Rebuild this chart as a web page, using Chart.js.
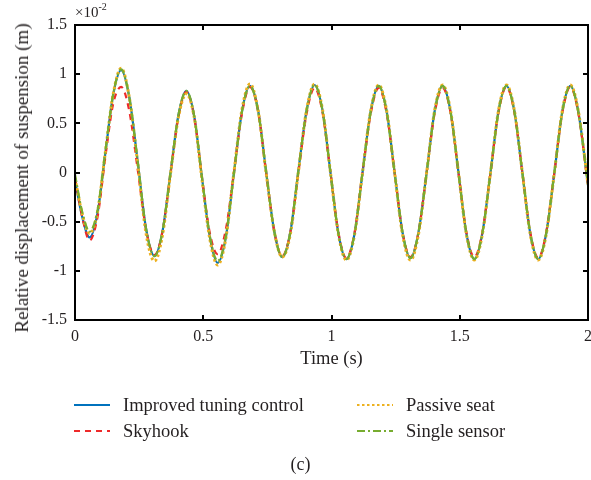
<!DOCTYPE html>
<html>
<head>
<meta charset="utf-8">
<script src="https://cdn.jsdelivr.net/npm/chart.js@4"></script>
<style>
    html, body { margin: 0; padding: 0; background: #fff; }
    body { width: 591px; height: 480px; position: relative; overflow: hidden; font-family: "Liberation Serif", serif; color: #231f20; }
    #wrap { position: absolute; left: 0; top: 0; width: 591px; height: 480px; }
    .exp { position: absolute; left: 75px; top: 2px; font-size: 15px; }
    .exp sup { font-size: 10px; position: relative; top: -1px; }
    .ytitle { position: absolute; left: 22px; top: 178px; font-size: 19px; white-space: nowrap; transform: translate(-50%, -50%) rotate(-90deg); }
    .leg { position: absolute; font-size: 18.5px; line-height: 20px; white-space: nowrap; }
    .leg svg { position: absolute; top: 0; }
    .cap { position: absolute; left: 0; width: 591px; top: 454px; text-align: center; font-size: 18px; margin-left: 5px; }
</style>
</head>
<body>
<div id="wrap"><canvas id="c" width="591" height="480"></canvas></div>
<div class="exp">&times;10<sup>-2</sup></div>
<div class="ytitle">Relative displacement of suspension (m)</div>
<div id="legend"></div>
<div class="cap">(c)</div>
<script>
// Time knots (s): extremes, zero crossings and points in between
const TIME = [
    0, 0.028, 0.057,
    0.088, 0.118, 0.149, 0.18,
    0.212, 0.245, 0.277, 0.31,
    0.341, 0.372, 0.403, 0.434,
    0.465, 0.495, 0.526, 0.556,
    0.588, 0.619, 0.651, 0.682,
    0.714, 0.745, 0.777, 0.808,
    0.840, 0.871, 0.903, 0.934,
    0.965, 0.996, 1.027, 1.058,
    1.090, 1.121, 1.153, 1.184,
    1.215, 1.246, 1.277, 1.308,
    1.339, 1.371, 1.402, 1.433,
    1.464, 1.495, 1.526, 1.557,
    1.588, 1.620, 1.651, 1.682,
    1.713, 1.744, 1.775, 1.806,
    1.837, 1.869, 1.900, 1.931,
    1.962, 2.0
];

// Relative displacement, units of 1e-2 m
const IMPROVED = [
    -0.08, -0.45, -0.66,
    -0.41, 0.19, 0.79, 1.04,
    0.76, 0.10, -0.57, -0.85,
    -0.60, -0.01, 0.58, 0.83,
    0.57, -0.05, -0.66, -0.92,
    -0.66, -0.02, 0.62, 0.88,
    0.63, 0.01, -0.60, -0.86,
    -0.60, 0.02, 0.63, 0.89,
    0.63, 0.00, -0.62, -0.88,
    -0.62, 0.00, 0.62, 0.88,
    0.62, 0.00, -0.61, -0.87,
    -0.61, 0.00, 0.62, 0.88,
    0.62, 0.00, -0.62, -0.88,
    -0.62, 0.00, 0.62, 0.88,
    0.62, 0.00, -0.62, -0.88,
    -0.62, 0.00, 0.62, 0.88,
    0.62, -0.13
];
const SKYHOOK = [
    -0.05, -0.45, -0.69,
    -0.45, 0.15, 0.70, 0.87,
    0.62, 0.02, -0.58, -0.84,
    -0.60, -0.02, 0.56, 0.82,
    0.56, -0.05, -0.62, -0.83,
    -0.58, -0.01, 0.60, 0.87,
    0.62, 0.00, -0.60, -0.85,
    -0.60, 0.00, 0.60, 0.86,
    0.61, 0.00, -0.61, -0.87,
    -0.61, 0.00, 0.60, 0.86,
    0.60, 0.00, -0.61, -0.86,
    -0.61, 0.00, 0.60, 0.86,
    0.61, 0.00, -0.61, -0.86,
    -0.61, 0.00, 0.61, 0.87,
    0.61, 0.00, -0.61, -0.87,
    -0.61, 0.00, 0.61, 0.87,
    0.61, -0.13
];
const PASSIVE = [
    -0.06, -0.42, -0.62,
    -0.40, 0.20, 0.80, 1.06,
    0.76, 0.08, -0.62, -0.90,
    -0.64, -0.02, 0.56, 0.80,
    0.56, -0.07, -0.68, -0.94,
    -0.67, -0.01, 0.64, 0.90,
    0.63, 0.00, -0.60, -0.86,
    -0.62, 0.01, 0.64, 0.90,
    0.64, 0.00, -0.63, -0.89,
    -0.63, 0.00, 0.63, 0.89,
    0.63, 0.00, -0.63, -0.89,
    -0.63, 0.00, 0.63, 0.89,
    0.63, 0.00, -0.63, -0.89,
    -0.63, 0.00, 0.63, 0.89,
    0.63, 0.00, -0.63, -0.89,
    -0.63, 0.00, 0.63, 0.89,
    0.63, -0.12
];
const SINGLE = [
    -0.02, -0.40, -0.60,
    -0.38, 0.21, 0.80, 1.05,
    0.76, 0.10, -0.57, -0.85,
    -0.60, -0.01, 0.58, 0.83,
    0.57, -0.05, -0.65, -0.90,
    -0.65, -0.02, 0.62, 0.88,
    0.62, 0.01, -0.60, -0.86,
    -0.60, 0.02, 0.63, 0.89,
    0.63, 0.00, -0.62, -0.88,
    -0.62, 0.00, 0.62, 0.88,
    0.62, 0.00, -0.61, -0.87,
    -0.61, 0.00, 0.62, 0.88,
    0.62, 0.00, -0.62, -0.88,
    -0.62, 0.00, 0.62, 0.88,
    0.62, 0.00, -0.62, -0.88,
    -0.62, 0.00, 0.62, 0.88,
    0.62, -0.12
];

const X_TICKS = [0, 0.5, 1, 1.5, 2];
const Y_TICKS = [-1.5, -1, -0.5, 0, 0.5, 1, 1.5];

const SERIES = [
    { label: 'Improved tuning control', values: IMPROVED, colour: '#0072bd', dash: [], width: 2.2, order: 3 },
    { label: 'Skyhook', values: SKYHOOK, colour: '#ee2a2a', dash: [6, 5], width: 2.2, order: 2 },
    { label: 'Passive seat', values: PASSIVE, colour: '#edb120', dash: [2.5, 2.5], width: 3, order: 1 },
    { label: 'Single sensor', values: SINGLE, colour: '#77ac30', dash: [8, 3, 2, 3], width: 2.2, order: 0 },
];

// MATLAB-style box with inward ticks on all four sides
const boxPlugin = {
    id: 'box',
    afterDatasetsDraw(chart) {
        const { ctx, chartArea: a, scales } = chart;
        ctx.save();
        ctx.strokeStyle = '#000';
        ctx.lineWidth = 2;
        ctx.strokeRect(a.left, a.top, a.right - a.left, a.bottom - a.top);
        ctx.beginPath();
        X_TICKS.forEach(v => {
            const x = Math.round(scales.x.getPixelForValue(v));
            ctx.moveTo(x, a.bottom); ctx.lineTo(x, a.bottom - 5);
            ctx.moveTo(x, a.top); ctx.lineTo(x, a.top + 5);
        });
        Y_TICKS.forEach(v => {
            const y = Math.round(scales.y.getPixelForValue(v));
            ctx.moveTo(a.left, y); ctx.lineTo(a.left + 5, y);
            ctx.moveTo(a.right, y); ctx.lineTo(a.right - 5, y);
        });
        ctx.stroke();
        ctx.restore();
    }
};

const tickFont = { family: '"Liberation Serif", serif', size: 16 };
const titleFont = { family: '"Liberation Serif", serif', size: 18.5 };

new Chart(document.getElementById('c'), {
    type: 'line',
    data: {
        datasets: SERIES.map(s => ({
            label: s.label,
            data: TIME.map((t, i) => ({ x: t, y: s.values[i] })),
            borderColor: s.colour,
            borderDash: s.dash,
            borderWidth: s.width,
            pointRadius: 0,
            cubicInterpolationMode: 'monotone',
            fill: false,
            order: s.order,
        })),
    },
    options: {
        responsive: false,
        animation: false,
        layout: { padding: { top: 25, right: 3, bottom: 110, left: 0 } },
        plugins: { legend: { display: false }, tooltip: { enabled: false } },
        scales: {
            x: {
                type: 'linear', min: 0, max: 2,
                afterFit: s => { s.height = 50; s.paddingRight = 0; s.paddingLeft = 0; },
                afterBuildTicks: s => { s.ticks = X_TICKS.map(v => ({ value: v })); },
                grid: { display: false, drawTicks: false },
                border: { display: false },
                ticks: { font: tickFont, color: '#231f20', padding: 7, maxRotation: 0, callback: v => String(v) },
                title: { display: true, text: 'Time (s)', font: titleFont, color: '#231f20', padding: { top: 0, bottom: 0 } },
            },
            y: {
                type: 'linear', min: -1.5, max: 1.5,
                afterFit: s => { s.width = 75; s.paddingTop = 0; s.paddingBottom = 0; },
                afterBuildTicks: s => { s.ticks = Y_TICKS.map(v => ({ value: v })); },
                grid: { display: false, drawTicks: false },
                border: { display: false },
                ticks: { font: tickFont, color: '#231f20', padding: 8, callback: v => String(v) },
                title: { display: false },
            },
        },
    },
    plugins: [boxPlugin],
});

// Legend, two columns
const LEGEND_POS = [
    { left: 74, top: 395 }, { left: 74, top: 421 },
    { left: 357, top: 395 }, { left: 357, top: 421 },
];
const legend = document.getElementById('legend');
SERIES.forEach((s, i) => {
    const p = LEGEND_POS[i];
    const el = document.createElement('div');
    el.className = 'leg';
    el.style.left = p.left + 'px';
    el.style.top = p.top + 'px';
    el.innerHTML = `<svg width="36" height="20"><line x1="0" y1="10" x2="36" y2="10" stroke="${s.colour}" stroke-width="2.2" stroke-dasharray="${s.dash.join(' ')}"/></svg><span style="margin-left:49px">${s.label}</span>`;
    legend.appendChild(el);
});
</script>
</body>
</html>
